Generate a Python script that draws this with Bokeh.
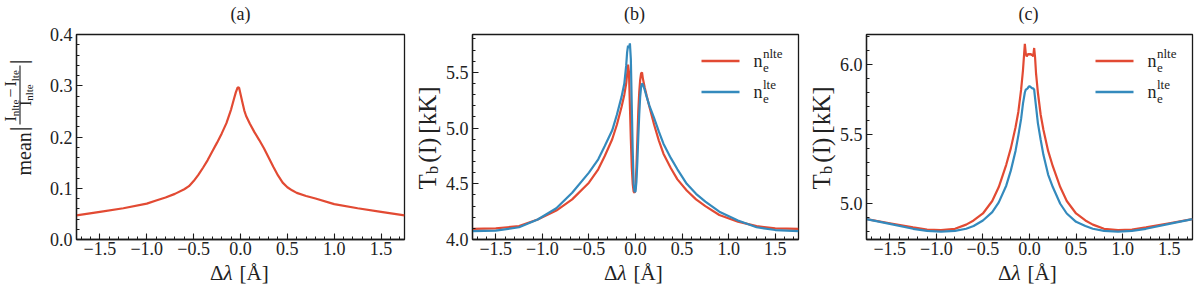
import math
from bokeh.plotting import figure
from bokeh.layouts import row, column
from bokeh.models import Range1d, FixedTicker, Label, Arrow
from bokeh.embed import file_html
from bokeh.resources import INLINE

# ------------------------------------------------------------------ data
# panel (a): mean |I_nlte - I_lte| / I_nlte
dl_a = [-1.75, -1.50, -1.25, -1.00, -0.90, -0.80, -0.70, -0.60, -0.55, -0.50,
        -0.45, -0.40, -0.35, -0.30, -0.25, -0.20, -0.15, -0.10, -0.07, -0.05,
        -0.03, -0.015, 0.00, 0.02, 0.04, 0.06, 0.10, 0.15, 0.20, 0.25,
        0.30, 0.35, 0.40, 0.45, 0.50, 0.55, 0.60, 0.70, 0.80, 1.00,
        1.25, 1.50, 1.75]
diff_a = [0.047, 0.054, 0.061, 0.070, 0.076, 0.082, 0.089, 0.098, 0.104, 0.114,
          0.126, 0.140, 0.155, 0.172, 0.189, 0.207, 0.227, 0.254, 0.274, 0.287,
          0.297, 0.296, 0.284, 0.268, 0.252, 0.241, 0.226, 0.209, 0.194, 0.178,
          0.160, 0.142, 0.125, 0.111, 0.102, 0.096, 0.091, 0.085, 0.080, 0.069,
          0.061, 0.054, 0.047]

# panel (b): T_b(I) [kK]
dl_b = [-1.75, -1.50, -1.25, -1.05, -0.85, -0.68, -0.50, -0.40, -0.33, -0.25,
        -0.20, -0.15, -0.12, -0.10, -0.09, -0.08, -0.07, -0.06, -0.05, -0.04,
        -0.03, -0.02, -0.01, 0.00, 0.01, 0.02, 0.03, 0.04, 0.05, 0.06,
        0.07, 0.08, 0.10, 0.12, 0.15, 0.20, 0.25, 0.30, 0.38, 0.45,
        0.55, 0.65, 0.75, 0.90, 1.10, 1.30, 1.50, 1.75]
tb_nlte_b = [4.095, 4.100, 4.120, 4.180, 4.260, 4.360, 4.510, 4.630, 4.750, 4.900,
             5.030, 5.190, 5.300, 5.400, 5.480, 5.570, 5.500, 5.200, 4.900, 4.650,
             4.500, 4.430, 4.420, 4.460, 4.650, 4.900, 5.150, 5.320, 5.430, 5.490,
             5.500, 5.440, 5.360, 5.290, 5.190, 5.030, 4.890, 4.770, 4.640, 4.540,
             4.440, 4.360, 4.300, 4.220, 4.160, 4.120, 4.100, 4.095]
tb_lte_b = [4.075, 4.080, 4.110, 4.180, 4.280, 4.420, 4.600, 4.720, 4.840, 4.980,
            5.120, 5.280, 5.400, 5.560, 5.680, 5.740, 5.720, 5.760, 5.620, 5.200,
            4.800, 4.500, 4.430, 4.430, 4.520, 4.700, 4.920, 5.120, 5.280, 5.370,
            5.400, 5.390, 5.340, 5.280, 5.200, 5.090, 4.970, 4.860, 4.730, 4.630,
            4.500, 4.410, 4.340, 4.250, 4.170, 4.110, 4.085, 4.075]

# panel (c): T_b(I) [kK]
dl_c = [-1.75, -1.50, -1.25, -1.10, -0.95, -0.80, -0.68, -0.60, -0.50, -0.40,
        -0.33, -0.25, -0.20, -0.15, -0.12, -0.09, -0.07, -0.05, -0.04, -0.03,
        -0.02, -0.01, 0.00, 0.01, 0.02, 0.03, 0.04, 0.05, 0.06, 0.07,
        0.09, 0.12, 0.15, 0.20, 0.25, 0.33, 0.40, 0.50, 0.60, 0.68,
        0.80, 0.95, 1.10, 1.25, 1.50, 1.75]
tb_nlte_c = [4.890, 4.860, 4.830, 4.815, 4.810, 4.820, 4.850, 4.880, 4.930, 5.020,
             5.120, 5.280, 5.400, 5.550, 5.660, 5.820, 5.960, 6.150, 6.080, 6.060,
             6.070, 6.080, 6.070, 6.080, 6.070, 6.070, 6.060, 6.120, 6.050, 5.940,
             5.800, 5.640, 5.530, 5.380, 5.270, 5.120, 5.020, 4.930, 4.880, 4.850,
             4.820, 4.810, 4.815, 4.830, 4.860, 4.890]
tb_lte_c = [4.890, 4.855, 4.820, 4.805, 4.800, 4.805, 4.820, 4.840, 4.880, 4.940,
            5.010, 5.130, 5.240, 5.380, 5.490, 5.610, 5.720, 5.800, 5.820, 5.825,
            5.830, 5.840, 5.845, 5.840, 5.835, 5.830, 5.830, 5.820, 5.760, 5.700,
            5.580, 5.460, 5.350, 5.210, 5.120, 5.000, 4.930, 4.870, 4.840, 4.820,
            4.805, 4.800, 4.805, 4.820, 4.855, 4.890]

# ticks / labels
x_ticks = [-1.5, -1.0, -0.5, 0.0, 0.5, 1.0, 1.5]
x_tick_labels = ["\u22121.5", "\u22121.0", "\u22120.5", "0.0", "0.5", "1.0", "1.5"]
ya_ticks = [0.0, 0.1, 0.2, 0.3, 0.4]
ya_tick_labels = ["0.0", "0.1", "0.2", "0.3", "0.4"]
yb_ticks = [4.0, 4.5, 5.0, 5.5]
yb_tick_labels = ["4.0", "4.5", "5.0", "5.5"]
yc_ticks = [5.0, 5.5, 6.0]
yc_tick_labels = ["5.0", "5.5", "6.0"]
titles = ["(a)", "(b)", "(c)"]
legend_sup = ["nlte", "lte"]

# ------------------------------------------------------------------ style
FONT = "Liberation Serif"
RED = "#E24A33"
BLUE = "#348ABD"
INK = "#1a1a1a"
TXT = "#222222"
UP = math.pi / 2
MID = 0.3375          # alphabetic baseline below the text-box centre, in em

x_minor = [round(-1.7 + 0.1 * i, 2) for i in range(35)]
ya_minor = [round(0.02 * i, 2) for i in range(21)]
yb_minor = [round(4.0 + 0.1 * i, 2) for i in range(19)]
yc_minor = [round(4.8 + 0.1 * i, 2) for i in range(15)]

# page geometry (page pixels from the top-left corner)
TOP_H = 24            # title strip
PT, FH, PB = 10, 205, 22
ROW_H = PT + FH + PB  # plot row
BOT_H = 289 - TOP_H - ROW_H   # x-label strip
ROW_Y = TOP_H
FRAME_BOTTOM = ROW_Y + PT + FH   # 239
FL = [76, 470, 864]   # frame left (page x)


class Strip:
    """a bare figure used as a text canvas; coordinates given in page pixels"""
    def __init__(self, ox, oy, w, h):
        self.ox, self.oy, self.w, self.h = ox, oy, w, h
        f = figure(width=w, height=h, x_range=Range1d(0, w), y_range=Range1d(0, h),
                   output_backend="svg", toolbar_location=None, min_border=0,
                   x_axis_location=None, y_axis_location=None)
        f.grid.visible = False
        f.outline_line_color = None
        f.background_fill_color = "white"
        f.border_fill_color = "white"
        self.fig = f

    def conv(self, ix, iy):
        return ix - self.ox, self.h - (iy - self.oy)


class Frame:
    """annotation helper for a plot figure: page coordinates -> frame screen units"""
    def __init__(self, fig, fl):
        self.fig, self.fl = fig, fl

    def conv(self, ix, iy):
        return ix - self.fl, FRAME_BOTTOM - iy


def txt(c, text, ix, iy, size, angle=0.0, align="left", style="normal"):
    """(ix, iy) is the alphabetic-baseline start of the text in page pixels"""
    off = MID * size
    if angle == 0.0:
        iy = iy - off
    else:
        ix = ix - off
    x, y = c.conv(ix, iy)
    c.fig.add_layout(Label(x=x, y=y, x_units="screen", y_units="screen", text=text,
                           angle=angle, text_font=FONT, text_font_size=f"{size}px",
                           text_align=align, text_baseline="middle",
                           text_font_style=style, text_color=TXT))


def seg(c, ix1, iy1, ix2, iy2, color, width):
    x1, y1 = c.conv(ix1, iy1)
    x2, y2 = c.conv(ix2, iy2)
    c.fig.add_layout(Arrow(x_start=x1, y_start=y1, x_end=x2, y_end=y2,
                           start_units="screen", end_units="screen", start=None, end=None,
                           line_color=color, line_width=width))


def make_fig(left, fw, right, yr, yt, ytl, ym):
    p = figure(width=left + fw + right, height=ROW_H,
               x_range=Range1d(-1.75, 1.75), y_range=Range1d(*yr),
               output_backend="svg", toolbar_location=None,
               min_border_left=left, min_border_right=right,
               min_border_top=PT, min_border_bottom=PB)
    p.grid.visible = False
    p.outline_line_color = INK
    p.outline_line_width = 1.3
    p.outline_line_alpha = 1.0
    p.background_fill_color = "white"
    p.border_fill_color = "white"
    for ax in (p.xaxis[0], p.yaxis[0]):
        ax.axis_line_color = INK
        ax.axis_line_width = 1.3
        ax.major_tick_in = 6
        ax.major_tick_out = 0
        ax.minor_tick_in = 3
        ax.minor_tick_out = 0
        ax.major_tick_line_color = INK
        ax.minor_tick_line_color = INK
        ax.major_tick_line_width = 1.1
        ax.minor_tick_line_width = 1.0
        ax.major_label_text_font = FONT
        ax.major_label_text_font_size = "18px"
        ax.major_label_text_color = TXT
    p.xaxis.ticker = FixedTicker(ticks=x_ticks, minor_ticks=x_minor)
    p.xaxis.major_label_overrides = dict(zip(x_ticks, x_tick_labels))
    p.xaxis.major_label_standoff = 2
    p.yaxis.ticker = FixedTicker(ticks=yt, minor_ticks=ym)
    p.yaxis.major_label_overrides = dict(zip(yt, ytl))
    p.yaxis.major_label_standoff = 4
    return p


# ------------------------------------------------------------------ build
top = Strip(0, 0, 1200, TOP_H)
bot = Strip(0, ROW_Y + ROW_H, 1200, BOT_H)
yl_a = Strip(0, ROW_Y, 44, ROW_H)
pa = make_fig(32, 328, 8, (0.0, 0.4), ya_ticks, ya_tick_labels, ya_minor)
yl_b = Strip(412, ROW_Y, 30, ROW_H)
pb = make_fig(28, 328, 8, (4.0, 5.84), yb_ticks, yb_tick_labels, yb_minor)
yl_c = Strip(806, ROW_Y, 30, ROW_H)
pc = make_fig(28, 328, 8, (4.743, 6.217), yc_ticks, yc_tick_labels, yc_minor)

pa.line(dl_a, diff_a, line_color=RED, line_width=2.2)
pb.line(dl_b, tb_nlte_b, line_color=RED, line_width=2.2)
pb.line(dl_b, tb_lte_b, line_color=BLUE, line_width=2.2)
pc.line(dl_c, tb_nlte_c, line_color=RED, line_width=2.2)
pc.line(dl_c, tb_lte_c, line_color=BLUE, line_width=2.2)

for i in range(3):
    cx = FL[i] + 164
    # panel title
    txt(top, titles[i], cx, 19.5, 18, align="center")
    # x label:  Δλ [Å]
    x0 = cx - 30.5
    txt(bot, "\u0394", x0, 280, 21)
    txt(bot, "\u03bb", x0 + 13.4, 280, 21, style="italic")
    txt(bot, "[\u00c5]", x0 + 29.5, 280, 21)

# y labels of (b), (c): T_b(I)[kK]
frames = [Frame(pb, FL[1]), Frame(pc, FL[2])]
for k, strip in enumerate((yl_b, yl_c)):
    bx = FL[k + 1] - 35
    y0 = 211
    txt(strip, "T", bx, y0, 25, angle=UP)
    txt(strip, "b", bx + 3, y0 - 15.3, 17, angle=UP)
    txt(strip, "(I)", bx, y0 - 15.3 - 8.5 - 3, 25, angle=UP)
    txt(strip, "[kK]", bx, y0 - 15.3 - 8.5 - 3 - 25 - 4, 25, angle=UP)
    # legend
    fr = frames[k]
    colors = [RED, BLUE]
    for j in range(2):
        ly = 60.5 + 31 * j
        seg(fr, fr.fl + 229, ly, fr.fl + 267, ly, colors[j], 2.6)
        txt(fr, "n", fr.fl + 281, ly + 6.5, 18)
        txt(fr, legend_sup[j], fr.fl + 290.5, ly - 3, 13)
        txt(fr, "e", fr.fl + 290.5, ly + 11, 13)

# y label of (a): mean | (I_nlte - I_lte) / I_nlte |
SH = 5
txt(yl_a, "mean", 25 + SH, 197, 20, angle=UP)
txt(yl_a, "|", 22 + SH, 153, 26, angle=UP)
txt(yl_a, "I", 10.5 + SH, 143, 16, angle=UP)
txt(yl_a, "nlte", 13 + SH, 137.7, 11, angle=UP)
txt(yl_a, "\u2212", 10.5 + SH, 119.0, 16, angle=UP)
txt(yl_a, "I", 10.5 + SH, 108.0, 16, angle=UP)
txt(yl_a, "lte", 13 + SH, 102.7, 11, angle=UP)
seg(yl_a, 14.5 + SH, 146, 14.5 + SH, 87, INK, 1.1)
txt(yl_a, "I", 25 + SH, 127.6, 16, angle=UP)
txt(yl_a, "nlte", 27.5 + SH, 122.3, 11, angle=UP)
txt(yl_a, "|", 22 + SH, 86, 26, angle=UP)

layout = column(top.fig,
                row(yl_a.fig, pa, yl_b.fig, pb, yl_c.fig, pc),
                bot.fig)
open("out.html", "w").write(file_html(layout, INLINE))
